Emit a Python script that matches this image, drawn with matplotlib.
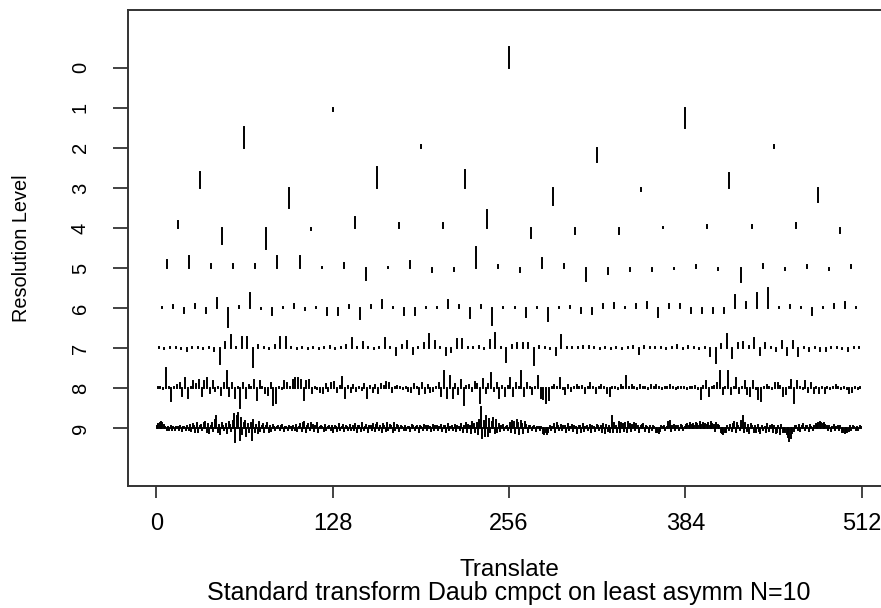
import numpy as np
import matplotlib
matplotlib.use("Agg")
import matplotlib.pyplot as plt

plt.rcParams['font.family'] = ['Liberation Sans', 'DejaVu Sans']

# wavelet coefficients per resolution level, in units of one level spacing
# (positive = drawn upwards)
level0 = [0.51]
level1 = [-0.08, -0.51]
level2 = [0.52, 0.07, -0.36, 0.06]
level3 = [0.40, -0.49, 0.52, 0.45, -0.42, -0.08, 0.37, -0.35]
level4 = [0.18, -0.41, -0.52, -0.05, 0.27, 0.12, 0.12, 0.45,
          -0.24, -0.16, -0.16, 0.03, 0.08, 0.08, 0.12, -0.12]
level5 = [0.20, 0.31, 0.10, 0.10, 0.10, 0.31, 0.29, 0.03,
          0.13, -0.30, 0.03, 0.18, -0.10, -0.08, 0.52, 0.07,
          -0.10, 0.25, 0.10, -0.32, -0.14, -0.08, -0.08, -0.02,
          0.07, -0.05, -0.36, 0.10, -0.05, 0.07, -0.05, 0.07]
level6 = [0.03, 0.08, -0.13, 0.11, -0.13, 0.25, -0.46, 0.04,
          0.37, -0.02, -0.18, 0.02, 0.09, -0.04, 0.02, -0.16,
          -0.16, 0.07, -0.27, 0.08, 0.19, 0.03, -0.17, -0.17,
          0.03, 0.03, 0.19, 0.08, -0.25, 0.07, -0.41, 0.02,
          0.02, -0.22, 0.03, -0.31, 0.02, 0.05, -0.12, -0.14,
          0.09, 0.13, 0.02, 0.11, 0.15, -0.22, 0.09, 0.11,
          -0.12, -0.12, -0.12, -0.12, 0.32, 0.15, 0.37, 0.51,
          0.02, 0.08, 0.03, -0.16, 0.02, 0.11, 0.15, 0.02]
# finer levels in hundredths of a level spacing
level7 = [3, -3, 3, 2, -3, -8, 3, 2, -3, 2, -6, -40, 15, 33, 3, 28,
          28, -48, 8, 3, -3, 7, 29, 27, 3, -3, 2, -3, 3, -3, 3, 5,
          -3, 3, 8, 25, 3, 15, 3, -3, 2, 25, 3, -18, 8, 17, -15, 3,
          12, 35, 18, 3, -17, -10, 23, 23, 3, 3, 5, -3, 20, 37, 3, -35,
          8, 13, 13, 13, -42, 6, 3, -3, -18, 32, 3, 2, 3, 6, 5, 2,
          -2, 2, -2, 2, -2, 3, 6, -15, 5, 3, 3, 2, -2, 3, 7, -2,
          6, 2, -3, 2, -20, -38, 10, 35, -24, 12, 15, 6, 25, -18, 12, 3,
          -6, 18, -18, 17, -20, 3, -8, 3, -7, -7, 3, 3, -3, -7, 3, 3]
level8 = [3, 3, -3, 50, 3, -33, 3, 8, 13, -20, 25, -25, 3, 17, 10, 20,
          -20, 17, 25, -13, 17, -6, 3, -17, 12, 42, -20, 12, -25, 3, -50, 12,
          -25, 8, 3, 20, -30, 17, 3, -12, -17, 12, -42, -38, 3, -3, 17, 12,
          3, 20, 25, 25, 20, -30, 17, 20, -13, 3, -3, -10, -12, 10, -8, 12,
          15, -10, 5, 27, -25, 6, -10, 8, -6, 4, -5, 10, -25, 6, -10, 8,
          -12, 10, 5, 15, 12, -10, 4, 5, 3, -3, 3, -6, -10, 10, 4, -14,
          12, -12, 8, -10, -6, 4, 12, -20, 42, -25, 30, -25, 10, -15, 20, -42,
          5, 8, -6, 15, 10, -38, 23, -12, 10, 37, -6, 12, -25, 5, -20, 5,
          25, -20, 12, 4, 42, -20, 12, 4, -15, 4, 30, -25, -28, -38, -30, 4,
          8, 4, 25, -3, -15, 8, -8, 3, 8, 4, 5, -12, 3, 12, 4, -12,
          3, 8, 4, -12, -20, 3, 3, -3, 8, 4, 30, 4, 8, 3, -3, 8,
          4, 3, -3, 8, 4, 8, 3, -3, 3, 4, 8, 3, -3, 4, 3, 3,
          -3, 3, 3, 5, -3, -28, 5, 17, -20, 4, 6, 12, 42, -15, 4, 42,
          -15, 4, 25, -12, 4, 17, -15, -20, 17, -3, -28, -33, 4, 8, 3, -3,
          12, 12, 6, -20, -15, 4, 20, -38, 17, 3, -3, 17, -10, 12, -12, 3,
          -12, 3, -12, 3, -3, 3, 8, 3, -3, 3, -3, -12, -10, 3, -3, 3]
level9 = [5, 10, 14, 15, 12, 8, 4, -3, 3, -4, 5, -3, 4, -5, 3, 4,
          -3, 5, -6, 4, 3, -4, 6, -5, 8, -6, 10, 5, -8, 12, -10, 6,
          9, -5, 12, 15, -8, 10, -12, 6, 14, -6, 20, 30, -10, 8, -15, 12,
          6, -5, 10, -12, 15, 8, -6, 18, 35, -33, 30, 38, -28, 25, -15, 12,
          18, -20, 10, -8, 14, -30, 20, -10, 8, -12, 15, -6, 5, 10, -8, 6,
          12, -10, 5, -6, 8, 4, -5, 3, 6, -4, 5, 8, -6, 4, 3, -5,
          6, 4, -3, 5, -4, 8, -6, 4, 10, -6, 12, 15, -8, 6, 10, -5,
          14, 8, -6, 5, 12, -8, 4, 6, 4, -6, 8, -5, 3, 6, -4, 5,
          -8, 6, 4, -6, 10, -5, 3, 8, -6, 5, 4, -3, 8, -5, 6, -4,
          10, -8, 5, 6, -6, 12, -5, 4, 8, -10, 6, 5, -4, 10, -6, 8,
          12, -5, 6, -8, 10, 5, -6, 12, -4, 8, 6, -10, 14, -5, 8, 6,
          -6, 5, 3, -4, 6, -5, 4, 3, -6, 8, 5, -3, 4, 6, -8, 5,
          3, -5, 8, 6, -4, 5, 3, -6, 8, -4, 5, 6, -5, 4, 8, -6,
          5, 6, -8, 10, -5, 4, 6, -4, 8, -6, 5, 4, -5, 10, -8, 6,
          12, -10, 8, 6, -12, 15, 10, -8, 14, -15, 20, 52, -25, 18, -20, 30,
          -18, 22, -10, 15, 25, -12, 20, -8, 10, -6, 5, 8, -5, 4, 6, -4,
          12, -10, 18, 15, -12, 20, 14, -15, 18, 10, -12, 15, 8, -10, 6, 5,
          -4, 3, 5, -6, 4, 3, -5, 4, -12, -15, -10, -14, -8, 6, -5, 4,
          10, -8, 12, 6, -5, 8, -4, 5, 6, -8, 10, -5, 4, 8, -6, 5,
          4, -12, 6, 5, -8, 10, -6, 4, 6, -5, 8, -10, 5, 4, -6, 8,
          5, -4, 6, -8, 10, -12, 8, -6, 5, -10, 30, -8, 12, 6, -10, 15,
          -8, 14, 10, -6, 12, -8, 15, 10, -6, 8, 12, -5, 10, 6, -8, 5,
          8, 10, -6, 5, 4, -8, 6, -5, 6, 4, -10, -8, -12, -6, 5, 4,
          6, -5, 4, 15, 18, -6, 5, 8, -4, 6, 5, -3, 8, 6, -5, 4,
          8, 10, 6, 12, 8, 10, 5, 12, 10, 6, 15, 8, 12, 5, 10, 8,
          12, 6, 15, 10, 8, -6, 12, 8, 5, -10, -12, -15, -8, -10, 6, -5,
          8, -6, 10, 15, -8, 12, 6, -5, 18, 30, -10, 12, -6, 8, -12, 10,
          6, -8, 5, -10, 8, -6, -12, 6, -5, 4, -8, 10, -6, 5, 8, -10,
          6, -12, -8, 5, -15, 8, -10, -6, -8, -15, -22, -32, -25, -12, -6, 5,
          6, -5, 8, -6, 5, 10, -4, 6, 5, -6, 8, 4, -5, 6, 10, 8,
          12, 15, 14, 10, 12, 8, 6, -4, 5, -6, 4, 8, -5, 3, 6, -4,
          5, -8, -10, -12, -10, -8, -6, 5, -4, 6, 3, -5, 4, -3, 5, 3]

levels = [level0, level1, level2, level3, level4, level5, level6,
          [v / 100 for v in level7], [v / 100 for v in level8],
          [v / 100 for v in level9]]

fig = plt.figure(figsize=(8.81, 6.08), dpi=100)
ax = fig.add_axes([128 / 881, 122 / 608, 762 / 881, 476 / 608])

for j, coefs in enumerate(levels):
    n = len(coefs)
    x = (np.arange(n) + 0.5) * 512 / n
    base = -j
    lc = ax.vlines(x, base, base + np.array(coefs), colors='black', linewidth=1.4)
    lc.set_capstyle('projecting')

ax.set_xlim(-20.48, 532.48)
ax.set_ylim(-10.44, 1.44)
ax.set_xticks([0, 128, 256, 384, 512])
ax.set_yticks([-j for j in range(10)])
ax.set_yticklabels([str(j) for j in range(10)], rotation=90, va='center')
ax.tick_params(axis='x', length=8.6, width=1.2, pad=11, labelsize=17, color='#222222')
ax.tick_params(axis='y', length=10.5, width=1.2, pad=17, labelsize=14.5, color='#222222')
for s in ax.spines.values():
    s.set_linewidth(1.4)
    s.set_color('#333333')

ax.set_xlabel("Translate", fontsize=17.5)
ax.xaxis.set_label_coords(0.5, -0.1765)
ax.xaxis.label.set_va('center')
ax.set_ylabel("Resolution Level", fontsize=14.3)
ax.yaxis.set_label_coords(-0.1404, 0.5)
ax.yaxis.label.set_va('center')
fig.text(509 / 881, 1 - 593 / 608, "Standard transform Daub cmpct on least asymm N=10",
         ha='center', va='center', fontsize=18)

fig.savefig("out.png", dpi=100)
